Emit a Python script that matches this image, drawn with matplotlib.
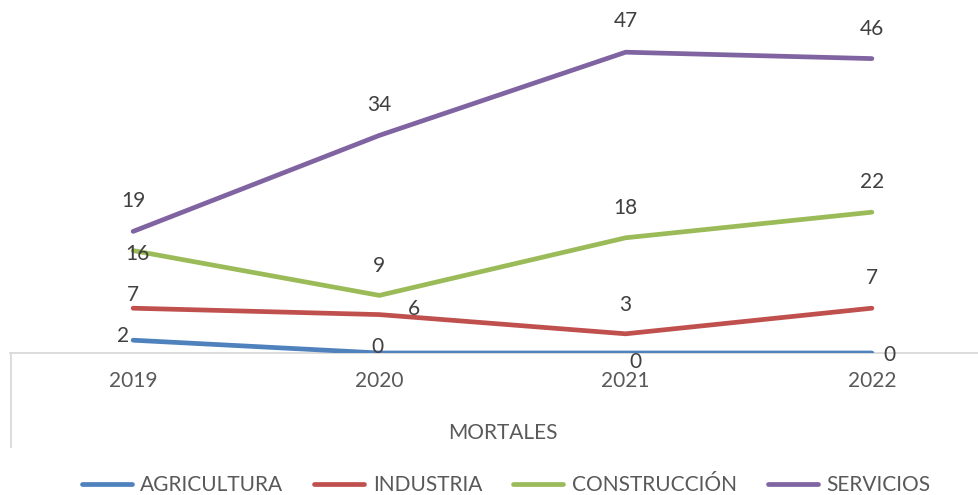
import matplotlib.pyplot as plt
from matplotlib.lines import Line2D

years = ["2019", "2020", "2021", "2022"]
agricultura = [2, 0, 0, 0]
industria = [7, 6, 3, 7]
construccion = [16, 9, 18, 22]
servicios = [19, 34, 47, 46]

series = [
    ("AGRICULTURA", agricultura, "#4F81BD"),
    ("INDUSTRIA", industria, "#C0504D"),
    ("CONSTRUCCIÓN", construccion, "#9BBB59"),
    ("SERVICIOS", servicios, "#8064A2"),
]

# label offsets in pixels (dx, dy up) for each point
label_offsets = [
    [(-10, 4), (-2, 6), (10, -9), (18, -2)],
    [(0, 13), (35, 6), (0, 29), (0, 30)],
    [(4, -3), (0, 29), (0, 30), (0, 30)],
    [(0, 30), (0, 30), (0, 31), (0, 30)],
]

plt.rcParams['font.family'] = ['Lato', 'DejaVu Sans']

W, H = 979, 495
fig = plt.figure(figsize=(W / 100, H / 100), dpi=100)
# axes span from x=10px to ~995px, y=0 at 353px, y=50 at 33px
ax = fig.add_axes([10 / W, (H - 353) / H, 985 / W, 320 / H])
ax.set_xlim(-0.5, 3.5)
ax.set_ylim(0, 50)

x = range(len(years))
for (name, vals, color), offs in zip(series, label_offsets):
    ax.plot(x, vals, color=color, lw=3.4, solid_capstyle='round',
            solid_joinstyle='round', label=name, zorder=3)
    for xi, v, (dx, dy) in zip(x, vals, offs):
        ax.annotate(str(v), (xi, v), xytext=(dx * 0.72, dy * 0.72),
                    textcoords='offset points', ha='center', va='center',
                    fontsize=15, color='#404040', zorder=4)

for s in ['top', 'right', 'left']:
    ax.spines[s].set_visible(False)
ax.spines['bottom'].set_color('#D9D9D9')
ax.spines['bottom'].set_linewidth(1.3)
ax.spines['bottom'].set_zorder(2)
ax.set_yticks([])
ax.set_xticks(list(x))
ax.set_xticklabels(years, fontsize=15, color='#595959')
ax.tick_params(axis='x', length=0, pad=13)

# outer category label and left divider of the multi-level axis
fig.text(503 / W, (H - 433) / H, "MORTALES",
         ha='center', va='center', fontsize=15, color='#595959')
fig.add_artist(Line2D([10.5 / W, 10.5 / W], [(H - 353) / H, (H - 447) / H],
                      color='#D9D9D9', lw=1.3))

fig.legend(loc='center', bbox_to_anchor=(506 / W, (H - 485) / H), ncol=4,
           frameon=False, fontsize=15, handlelength=2.4, handletextpad=0.4,
           columnspacing=1.5, labelcolor='#595959')

fig.savefig("out.png", dpi=100)
